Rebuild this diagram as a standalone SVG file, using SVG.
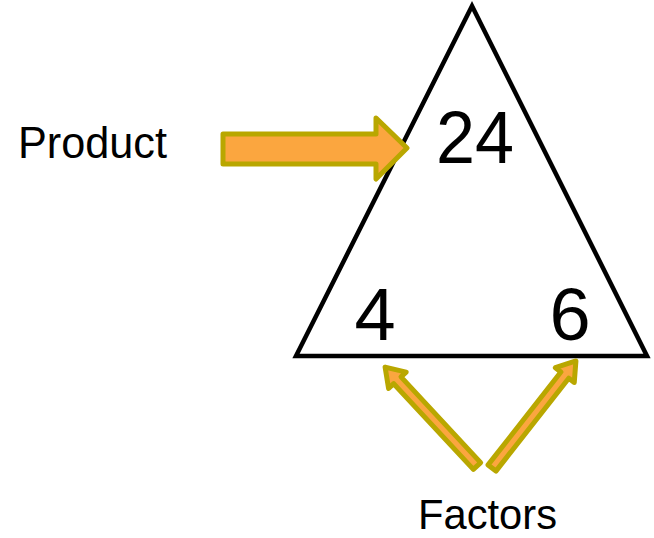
<svg xmlns="http://www.w3.org/2000/svg" width="654" height="538" viewBox="0 0 654 538">
<style>
.lbl{font-family:"Liberation Sans","Open Sans",Arial,sans-serif;fill:#000;}
.num{font-family:"Liberation Sans","Open Sans",Arial,sans-serif;fill:#000;font-size:74px;text-anchor:middle;}
.arr{fill:#FBA63F;stroke:#B9A700;stroke-width:5;stroke-linejoin:round;}
</style>
<rect width="654" height="538" fill="#fff"/>
<g id="triangle">
<polygon points="472,6 296,356 647,356" fill="#fff" stroke="#000" stroke-width="4.5" stroke-linejoin="miter"/>
<text class="num" x="475" y="163" textLength="78" lengthAdjust="spacingAndGlyphs">24</text>
<text class="num" x="375" y="340">4</text>
<text class="num" x="570" y="340">6</text>
</g>
<g id="product">
<text class="lbl" x="18" y="158" font-size="45" textLength="149" lengthAdjust="spacingAndGlyphs">Product</text>
</g>
<g id="factors">
<text class="lbl" x="418" y="529" font-size="42" textLength="139" lengthAdjust="spacingAndGlyphs">Factors</text>
</g>
<g id="connectors">
<polygon class="arr" points="223,134 376,134 376,118 407,148 376,179 376,164 223,164"/>
<g transform="translate(477,466) rotate(227.1)">
<polygon class="arr" points="0,-5 117,-5 117,-12 135,0 117,12 117,5 0,5"/>
</g>
<g transform="translate(492,468) rotate(-51.9)">
<polygon class="arr" points="0,-5 118,-5 118,-12 136,0 118,12 118,5 0,5"/>
</g>
</g>
</svg>
